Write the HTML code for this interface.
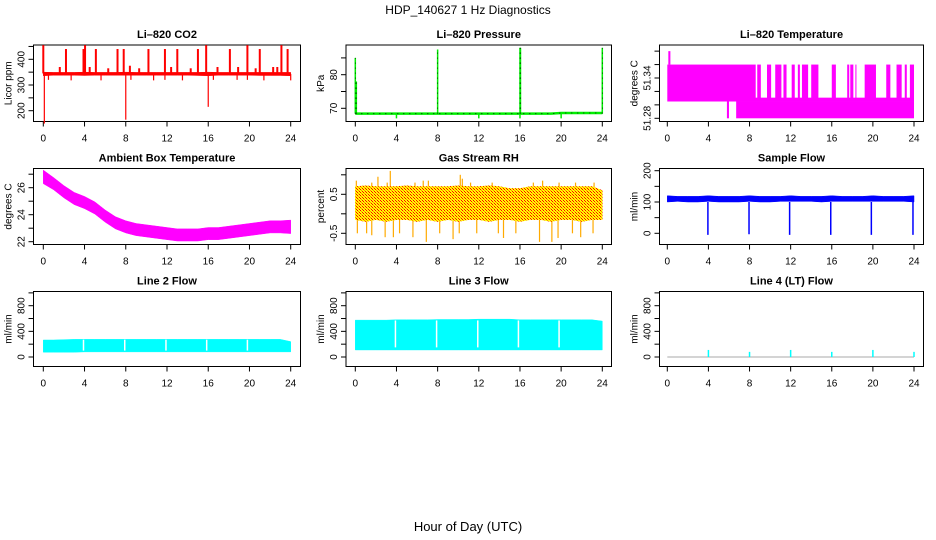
<!DOCTYPE html>
<html><head><meta charset="utf-8">
<style>
html,body{margin:0;padding:0;background:#fff;}
svg{display:block;font-family:"Liberation Sans",Arial,sans-serif;}
</style></head>
<body>
<svg id="chart" width="936" height="540" viewBox="0 0 936 540" xmlns="http://www.w3.org/2000/svg">
<defs>
<pattern id="rhpat" width="3" height="3" patternUnits="userSpaceOnUse">
<rect width="3" height="3" fill="#ffff00"/>
<rect x="0" y="0" width="1" height="1" fill="#ff0000"/>
<rect x="1" y="1" width="1" height="1" fill="#ff8800"/>
<rect x="2" y="2" width="1" height="1" fill="#ff0000"/>
</pattern>
</defs>
<text x="468" y="14" font-size="12" text-anchor="middle">HDP_140627  1 Hz Diagnostics</text>
<text x="468" y="531" font-size="13" text-anchor="middle">Hour of Day (UTC)</text>
</svg>
<script>
// ---------- data ----------
const hours = [0,1,2,3,4,5,6,7,8,9,10,11,12,13,14,15,16,17,18,19,20,21,22,23,24];
const xTicks = [0,4,8,12,16,20,24];

// CO2
const co2Lo = [336,338,338,338,337,338,338,338,338,338,338,338,338,338,338,337,336,338,338,338,338,337,337,337,336];
const co2Hi = [350,349,349,349,350,349,349,349,350,349,349,349,349,349,349,349,350,349,349,349,349,349,349,349,349];
const co2UpT = [0,2.2,3.9,4.05,5.1,7.2,7.8,10.2,11.8,13.0,15.0,15.8,18.1,19.8,21.0,23.1,23.7,1.6,4.5,6.3,8.4,9.3,12.4,14.3,16.9,18.9,20.6,22.3,22.7];
const co2UpV = [455,440,440,455,440,440,440,440,440,440,440,455,440,455,440,455,440,370,370,365,375,365,370,365,370,370,365,370,370];
const co2DnT = [0.1,8.0,16.0,0.5,2.7,5.6,8.5,10.7,11.8,13.5,16.5,18.8,19.8,21.4,24.0];
const co2DnV = [150,165,215,320,318,318,320,318,320,318,320,320,320,318,318];
const co2YTicks = [200,250,300,350,400,450];
const co2YLabels = ["200","","300","","400",""];

// Pressure
const presBase = [68.4,68.4,68.4,68.4,68.4,68.4,68.4,68.4,68.4,68.4,68.4,68.4,68.4,68.4,68.4,68.4,68.4,68.4,68.4,68.4,68.6,68.6,68.6,68.6,68.6];
const presSpikeT = [0,0.1,8,16,16.05,24];
const presSpikeV = [85,78,87.5,88,88,88];
const presDipT = [4,12,16,20];
const presDipV = [67,67,67,67];
const presYTicks = [70,75,80,85];
const presYLabels = ["70","","80",""];

// Li-820 temperature
const tempTopV = 51.36, tempMidV = 51.305, tempLowV = 51.28, tempPeakV = 51.38;
const tempGapStart = [8.6,9.1,10.1,11.1,11.6,12.4,12.9,13.7,14.7,16.4,17.7,18.1,18.4,20.3,21.7,22.8,23.3];
const tempGapEnd   = [8.75,9.7,10.5,11.3,12.1,12.7,13.1,14.0,16.0,17.5,17.8,18.3,19.2,21.3,22.3,23.1,23.6];
const tempLowStart = [5.8,6.7];
const tempLowEnd   = [6.0,24];
const tempYTicks = [51.28,51.30,51.32,51.34,51.36,51.38];
const tempYLabels = ["51.28","","","51.34","",""];

// Ambient box temperature
const ambMid = [26.8,26.3,25.7,25.2,24.9,24.5,23.9,23.4,23.1,22.9,22.8,22.7,22.6,22.5,22.5,22.5,22.6,22.6,22.7,22.8,22.9,23.0,23.1,23.1,23.1];
const ambHalf = [0.5,0.45,0.45,0.45,0.45,0.45,0.45,0.45,0.45,0.45,0.45,0.45,0.45,0.45,0.45,0.45,0.45,0.45,0.45,0.45,0.45,0.45,0.45,0.45,0.5];
const ambYTicks = [22,23,24,25,26,27];
const ambYLabels = ["22","","24","","26",""];

// Gas stream RH
const rhLo = [-0.15,-0.2,-0.15,-0.2,-0.15,-0.15,-0.2,-0.15,-0.2,-0.15,-0.2,-0.15,-0.15,-0.2,-0.15,-0.15,-0.2,-0.15,-0.15,-0.2,-0.15,-0.15,-0.2,-0.15,-0.15];
const rhHi = [0.7,0.72,0.7,0.7,0.7,0.72,0.7,0.7,0.7,0.7,0.72,0.7,0.7,0.72,0.7,0.65,0.65,0.7,0.7,0.7,0.7,0.7,0.7,0.7,0.6];
const rhUpT = [0.1,1.6,2.2,3.1,3.4,5.8,6.6,7.1,10.2,10.4,11.2,13.3,17.3,18.2,19.8,21.4,23.2];
const rhUpV = [0.85,0.8,0.95,0.8,1.1,0.8,0.85,0.85,1.0,0.9,0.8,0.8,0.8,0.85,0.8,0.8,0.8];
const rhDnT = [0.2,1.1,1.6,2.9,3.7,4.3,5.6,6.9,8.2,9.5,10.1,11.8,13.9,14.4,15.6,17.9,19.1,19.7,21.1,21.9,23.1];
const rhDnV = [-0.5,-0.5,-0.55,-0.6,-0.6,-0.5,-0.6,-0.72,-0.5,-0.65,-0.5,-0.5,-0.5,-0.62,-0.5,-0.72,-0.72,-0.62,-0.5,-0.6,-0.5];
const rhYTicks = [-0.5,0,0.5,1.0];
const rhYLabels = ["-0.5","","0.5",""];

// Sample flow
const sfLo = [100,102,100,100,102,100,100,100,102,100,100,102,102,102,102,100,102,102,102,102,102,102,102,102,100];
const sfHi = [120,118,118,118,120,118,118,118,120,118,118,118,120,118,118,118,120,118,118,118,120,118,118,118,120];
const sfDipT = [3.95,7.95,11.9,15.9,19.85,23.9];
const sfDipV = [-5,-3,-5,-5,-5,-5];
const sfYTicks = [0,50,100,150,200];
const sfYLabels = ["0","","100","","200"];

// Line flows
const flowYTicks = [0,200,400,600,800,1000];
const flowYLabels = ["0","","400","","800",""];
const l2Lo = [75,75,75,75,80,80,80,80,80,80,80,80,80,80,80,80,80,80,80,80,80,80,80,80,80];
const l2Hi = [265,265,270,275,275,275,275,275,275,275,275,275,275,275,275,275,275,275,275,275,275,275,275,275,240];
const l3Lo = [110,110,110,110,110,110,110,110,110,110,110,110,110,110,110,110,110,110,110,110,110,110,110,110,110];
const l3Hi = [575,575,575,575,580,580,580,580,585,585,585,585,590,590,590,590,580,580,580,580,580,580,580,580,560];
const flowGapT = [3.9,7.9,11.9,15.85,19.8];
const l4SpikeT = [4,8,12,16,20,24];
const l4SpikeV = [110,80,110,80,110,80];

// ---------- layout ----------
const NS = "http://www.w3.org/2000/svg";
const svg = document.getElementById('chart');
const cols = [{bl:33.5,br:300.5,x0:43.3,x24:290.7},{bl:346,br:611.5,x0:355.3,x24:602.3},{bl:659.5,br:923.5,x0:667.3,x24:914}];
const rows = [{bt:45,bb:121.5},{bt:168.5,bb:244.5},{bt:291.5,bb:366.5}];

function el(tag, attrs, parent){
  const e = document.createElementNS(NS, tag);
  for (const k in attrs) e.setAttribute(k, attrs[k]);
  (parent||svg).appendChild(e);
  return e;
}

function makePanel(name, title, ylab, c, r, yA, pA, yB, pB, yTicks, yLabels){
  const col = cols[c], row = rows[r];
  const g = el('g', {});
  
  
  const xs = h => col.x0 + (col.x24 - col.x0) * h / 24;
  const ys = v => pA + (pB - pA) * (v - yA) / (yB - yA);
  const t = el('text', {x:(col.bl+col.br)/2, y:row.bt-7, 'font-size':11, 'font-weight':'bold', 'text-anchor':'middle'}, g);
  t.textContent = title;
  
  
  const box = el('rect', {x:col.bl, y:row.bt, width:col.br-col.bl, height:row.bb-row.bt, fill:'none', stroke:'#000', 'stroke-width':1}, g);
  
  
  const xa = el('g', {}, g);
  
  
  xTicks.forEach(h => {
    el('line', {x1:xs(h), x2:xs(h), y1:row.bb, y2:row.bb+5, stroke:'#000'}, xa);
    const tl = el('text', {x:xs(h), y:row.bb+20, 'font-size':10, 'text-anchor':'middle'}, xa);
    tl.textContent = h;
  });
  const ya = el('g', {}, g);
  
  
  yTicks.forEach((v,i) => {
    const py = ys(v);
    el('line', {x1:col.bl-5, x2:col.bl, y1:py, y2:py, stroke:'#000'}, ya);
    if (yLabels[i]) {
      const tl = el('text', {x:0, y:0, 'font-size':10, 'text-anchor':'middle', transform:`translate(${col.bl-9},${py}) rotate(-90)`}, ya);
      tl.textContent = yLabels[i];
    }
  });
  const yl = el('text', {x:0, y:0, 'font-size':10, 'text-anchor':'middle', transform:`translate(${col.bl-22},${(row.bt+row.bb)/2}) rotate(-90)`}, g);
  yl.textContent = ylab;
  
  
  const data = el('g', {}, g);
  
  
  return {xs, ys, g:data};
}

function band(p, lo, hi, fill){
  let pts = hours.map((h,i)=>p.xs(h)+','+p.ys(hi[i]));
  pts = pts.concat(hours.slice().reverse().map((h,j)=>{const i=hours.length-1-j; return p.xs(h)+','+p.ys(lo[i]);}));
  el('polygon', {points:pts.join(' '), fill:fill, stroke:fill, 'stroke-width':0.5}, p.g);
}
function spikes(p, ts, vs, base, color, w, dash){
  ts.forEach((t,i)=>{
    const a = {x1:p.xs(t),x2:p.xs(t),y1:p.ys(base),y2:p.ys(vs[i]),stroke:color,'stroke-width':w||1.5};
    if (dash) a['stroke-dasharray'] = dash;
    el('line',a, p.g);
  });
}
function gaps(p, ts, lo, hi){
  ts.forEach(t=>el('line',{x1:p.xs(t),x2:p.xs(t),y1:p.ys(lo),y2:p.ys(hi),stroke:'#fff','stroke-width':1.5}, p.g));
}

// CO2
let p = makePanel('co2','Li\u2013820 CO2','Licor ppm',0,0,200,110.7,400,59.3,co2YTicks,co2YLabels);
band(p, co2Lo, co2Hi, '#ff0000');
spikes(p, co2UpT, co2UpV, 345, '#ff0000', 2);
spikes(p, co2DnT, co2DnV, 343, '#ff0000', 1.2);

// Pressure
p = makePanel('pressure','Li\u2013820 Pressure','kPa',1,0,70,108.3,80,74.7,presYTicks,presYLabels);
el('polyline',{points:hours.map((h,i)=>p.xs(h)+','+p.ys(presBase[i])).join(' '),fill:'none',stroke:'#00ee00','stroke-width':2.5},p.g);
el('polyline',{points:hours.map((h,i)=>p.xs(h)+','+p.ys(presBase[i])).join(' '),fill:'none',stroke:'#000','stroke-width':0.8,'stroke-dasharray':'1 5'},p.g);
spikes(p, presSpikeT, presSpikeV, 68.4, '#00ee00', 1.5);
spikes(p, presSpikeT, presSpikeV, 68.4, '#000', 0.7, '1 4');
spikes(p, presDipT, presDipV, 68.4, '#00ee00', 1.5);

// Li-820 temperature
p = makePanel('li820-temp','Li\u2013820 Temperature','degrees C',2,0,51.28,118.3,51.34,78,tempYTicks,tempYLabels);
el('rect',{x:p.xs(0),y:p.ys(tempTopV),width:p.xs(24)-p.xs(0),height:p.ys(tempMidV)-p.ys(tempTopV),fill:'#ff00ff'},p.g);
el('rect',{x:p.xs(0.1),y:p.ys(tempPeakV),width:p.xs(0.3)-p.xs(0.1),height:p.ys(tempTopV)-p.ys(tempPeakV),fill:'#ff00ff'},p.g);
tempLowStart.forEach((s,i)=>el('rect',{x:p.xs(s),y:p.ys(tempMidV),width:p.xs(tempLowEnd[i])-p.xs(s),height:p.ys(tempLowV)-p.ys(tempMidV),fill:'#ff00ff'},p.g));
tempGapStart.forEach((s,i)=>el('rect',{x:p.xs(s),y:p.ys(tempTopV)-0.5,width:p.xs(tempGapEnd[i])-p.xs(s),height:p.ys(51.31)-p.ys(tempTopV),fill:'#fff'},p.g));

// Ambient
p = makePanel('ambient-temp','Ambient Box Temperature','degrees C',0,1,22,241.7,26,187.7,ambYTicks,ambYLabels);
band(p, ambMid.map((m,i)=>m-ambHalf[i]), ambMid.map((m,i)=>m+ambHalf[i]), '#ff00ff');

// RH
p = makePanel('gas-rh','Gas Stream RH','percent',1,1,-0.5,233.3,0.5,194.3,rhYTicks,rhYLabels);
spikes(p, rhUpT, rhUpV, 0.3, '#ffaa00', 1.2);
spikes(p, rhDnT, rhDnV, 0.2, '#ffaa00', 1.2);
band(p, rhLo, rhHi, 'url(#rhpat)');

// Sample flow
p = makePanel('sample-flow','Sample Flow','ml/min',2,1,0,233.3,200,170.7,sfYTicks,sfYLabels);
band(p, sfLo, sfHi, '#0000ff');
spikes(p, sfDipT, sfDipV, 100, '#0000ff', 1.5);

// Line 2
p = makePanel('line2-flow','Line 2 Flow','ml/min',0,2,0,357,800,305.7,flowYTicks,flowYLabels);
band(p, l2Lo, l2Hi, '#00ffff');
gaps(p, flowGapT, 100, 270);

// Line 3
p = makePanel('line3-flow','Line 3 Flow','ml/min',1,2,0,357,800,305.7,flowYTicks,flowYLabels);
band(p, l3Lo, l3Hi, '#00ffff');
gaps(p, flowGapT, 150, 570);

// Line 4
p = makePanel('line4-flow','Line 4 (LT) Flow','ml/min',2,2,0,357,800,305.7,flowYTicks,flowYLabels);
el('line',{x1:p.xs(0),x2:p.xs(24),y1:p.ys(0),y2:p.ys(0),stroke:'#aaaaaa','stroke-width':1},p.g);
spikes(p, l4SpikeT, l4SpikeV, 0, '#00ffff', 1.5);
</script>
</body></html>
